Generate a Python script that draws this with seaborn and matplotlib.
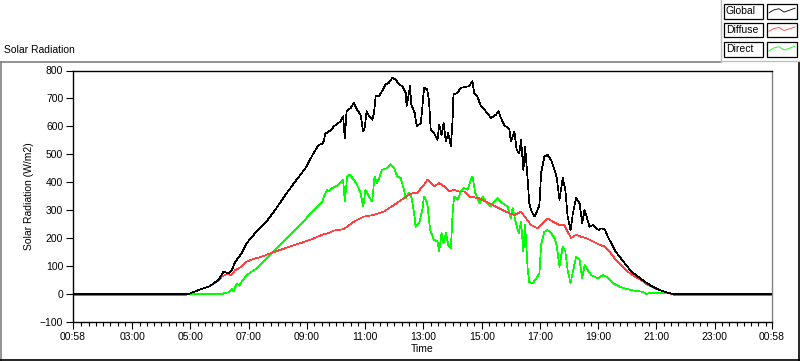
import matplotlib
matplotlib.use("Agg")
import matplotlib.pyplot as plt
from matplotlib.patches import Rectangle
from matplotlib.lines import Line2D
import seaborn as sns
import pandas as pd
import numpy as np

# ---------------- data (decimal hours, W/m2) ----------------
global_t = [0.967, 4.93, 5.00, 5.27, 5.62, 5.96, 6.13, 6.30, 6.42, 6.54, 6.76, 6.93, 7.22, 7.57, 7.91,
            8.26, 8.60, 8.95, 9.23, 9.40, 9.52, 9.575, 9.63, 9.69, 9.75, 9.86, 9.92, 10.15, 10.24, 10.30,
            10.36, 10.50, 10.61, 10.72, 10.84, 10.93, 10.98, 11.05, 11.13, 11.24, 11.30, 11.36, 11.47,
            11.58, 11.70, 11.81, 11.93, 12.04, 12.16, 12.27, 12.39, 12.42, 12.54, 12.58, 12.70, 12.77,
            12.91, 12.96, 13.02, 13.13, 13.19, 13.25, 13.36, 13.48, 13.54, 13.62, 13.69, 13.77, 13.85,
            13.94, 14.00, 14.03, 14.17, 14.28, 14.40, 14.57, 14.68, 14.74, 14.85, 14.97, 15.14, 15.32,
            15.49, 15.58, 15.66, 15.77, 15.95, 16.00, 16.12, 16.20, 16.29, 16.35, 16.43, 16.49, 16.58,
            16.63, 16.69, 16.81, 16.92, 16.98, 17.04, 17.15, 17.26, 17.38, 17.50, 17.57, 17.67, 17.78,
            17.87, 17.95, 18.05, 18.13, 18.24, 18.36, 18.45, 18.53, 18.62, 18.70, 18.82, 18.93, 19.02,
            19.10, 19.22, 19.33, 19.45, 19.56, 19.73, 19.91, 20.14, 20.37, 20.60, 20.83, 21.05, 21.28,
            21.46, 21.60, 24.967]
global_v = [0, 0, 3, 14, 26, 50, 80, 74, 86, 116, 146, 182, 218, 254, 301,
            355, 403, 451, 505, 534, 538, 546, 576, 576, 582, 590, 600, 618, 636, 558,
            654, 666, 684, 660, 642, 582, 594, 654, 636, 624, 648, 708, 708,
            726, 750, 756, 774, 768, 750, 744, 720, 672, 744, 678, 648, 600,
            612, 666, 738, 732, 690, 588, 576, 552, 606, 570, 612, 546, 576,
            528, 624, 714, 720, 738, 740, 744, 762, 720, 708, 672, 654, 630,
            642, 654, 630, 606, 588, 546, 582, 516, 504, 552, 444, 528, 408,
            325, 301, 277, 301, 319, 433, 492, 498, 480, 444, 420, 337, 415,
            373, 277, 229, 289, 343, 325, 253, 301, 271, 241, 247, 235, 229,
            235, 232, 205, 182, 158, 134, 110, 80, 62, 44, 29, 17, 8,
            3, 0, 0]

diffuse_t = [0.967, 4.75, 4.93, 5.00, 5.27, 5.62, 5.96, 6.07, 6.25, 6.40, 6.54, 6.76, 6.93, 7.11, 7.45,
             7.80, 8.14, 8.48, 8.83, 9.17, 9.52, 9.75, 9.92, 10.26, 10.61, 10.95, 11.30, 11.64, 11.99,
             12.33, 12.56, 12.79, 13.02, 13.13, 13.25, 13.36, 13.54, 13.71, 13.88, 14.05, 14.22, 14.40,
             14.57, 14.91, 15.26, 15.60, 15.95, 16.12, 16.35, 16.52, 16.69, 16.92, 17.09, 17.26, 17.44,
             17.67, 17.84, 17.95, 18.07, 18.24, 18.42, 18.59, 18.82, 19.05, 19.22, 19.39, 19.56, 19.79,
             20.02, 20.25, 20.48, 20.71, 20.94, 21.17, 21.46, 21.65, 24.967]
diffuse_v = [-5, -5, 0, 3, 14, 26, 48, 62, 72, 68, 86, 98, 116, 124, 134,
             148, 160, 172, 184, 196, 212, 218, 227, 232, 259, 277, 283, 295, 319,
             343, 359, 363, 391, 409, 397, 385, 397, 385, 367, 373, 367, 367,
             349, 343, 325, 307, 289, 283, 295, 271, 247, 235, 253, 271, 259,
             247, 247, 223, 200, 212, 205, 200, 188, 176, 170, 152, 128, 104,
             80, 62, 50, 32, 20, 12, 3, -5, -5]

direct_t = [0.967, 6.07, 6.20, 6.30, 6.42, 6.48, 6.59, 6.68, 6.76, 6.93, 7.22, 7.57, 7.85, 8.14, 8.48,
            8.83, 9.17, 9.52, 9.63, 9.69, 9.75, 9.86, 10.09, 10.24, 10.30, 10.38, 10.47, 10.61, 10.72,
            10.84, 10.93, 11.01, 11.13, 11.24, 11.32, 11.41, 11.58, 11.76, 11.87, 11.99, 12.10, 12.22,
            12.33, 12.39, 12.50, 12.58, 12.68, 12.73, 12.85, 12.96, 13.02, 13.13, 13.23, 13.36, 13.48,
            13.54, 13.62, 13.69, 13.77, 13.85, 13.94, 14.00, 14.05, 14.17, 14.28, 14.40, 14.51, 14.63,
            14.68, 14.78, 14.85, 14.94, 15.03, 15.14, 15.32, 15.43, 15.54, 15.72, 15.89, 16.00, 16.06,
            16.18, 16.27, 16.35, 16.43, 16.49, 16.58, 16.63, 16.75, 16.87, 16.98, 17.04, 17.15, 17.26,
            17.38, 17.50, 17.57, 17.67, 17.78, 17.87, 17.95, 18.05, 18.13, 18.24, 18.36, 18.45, 18.53,
            18.64, 18.76, 18.87, 18.99, 19.16, 19.28, 19.39, 19.56, 19.79, 20.02, 20.25, 20.54, 20.65,
            20.83, 21.17, 21.46, 21.60, 24.967]
direct_v = [0, 0, 4, 6, 18, 10, 38, 30, 44, 68, 88, 122, 152, 182, 218,
            253, 295, 330, 361, 373, 367, 379, 391, 409, 331, 421, 427, 409, 391,
            361, 313, 373, 349, 331, 421, 397, 445, 451, 465, 451, 421, 415,
            373, 343, 361, 349, 289, 241, 253, 301, 349, 325, 229, 194, 188,
            152, 218, 182, 218, 176, 164, 289, 349, 337, 367, 379, 373, 409,
            421, 361, 343, 325, 349, 331, 313, 331, 343, 325, 313, 271, 307,
            253, 218, 259, 152, 247, 86, 44, 38, 56, 74, 176, 223, 229,
            218, 200, 176, 98, 170, 152, 86, 38, 80, 134, 122, 56, 104,
            86, 68, 62, 56, 68, 62, 50, 36, 24, 17, 12, 8, 0,
            5, 5, 2, 0, 0]

series_names = ["Global", "Diffuse", "Direct"]
series_colors = ["#000000", "#FF4040", "#00FF00"]
x_ticks = [0.9667, 3, 5, 7, 9, 11, 13, 15, 17, 19, 21, 23, 24.9667]
x_tick_labels = ["00:58", "03:00", "05:00", "07:00", "09:00", "11:00", "13:00",
                 "15:00", "17:00", "19:00", "21:00", "23:00", "00:58"]
y_ticks = [-100, 0, 100, 200, 300, 400, 500, 600, 700, 800]

df = pd.concat([
    pd.DataFrame({"t": global_t, "v": global_v, "series": "Global"}),
    pd.DataFrame({"t": diffuse_t, "v": diffuse_v, "series": "Diffuse"}),
    pd.DataFrame({"t": direct_t, "v": direct_v, "series": "Direct"}),
], ignore_index=True)

# ---------------- figure ----------------
W, H = 800, 361
plt.rcParams["font.family"] = ["Liberation Sans", "DejaVu Sans"]
fig = plt.figure(figsize=(W / 100, H / 100), dpi=100)
fig.patch.set_facecolor("white")

def fx(x):
    return x / W

def fy(y):
    return 1 - y / H

L, R, T, B = 73, 772, 70.5, 322
ax = fig.add_axes([fx(L), fy(B), fx(R) - fx(L), fy(T) - fy(B)])

palette = dict(zip(series_names, series_colors))
sns.lineplot(data=df, x="t", y="v", hue="series", hue_order=["Direct", "Diffuse", "Global"],
             palette=palette, estimator=None, sort=False, legend=False, ax=ax,
             linewidth=0.5, antialiased=False)

ax.set_xlim(x_ticks[0], x_ticks[-1])
ax.set_ylim(-100, 800)
ax.set_xticks(x_ticks)
ax.set_xticklabels(x_tick_labels)
minor = [h / 4 for h in range(5, 100) if (h / 4) not in x_ticks]
ax.set_xticks(minor, minor=True)
ax.set_yticks(y_ticks)
ax.tick_params(axis="both", which="major", direction="out", length=5, width=0.8,
               labelsize=7.5, pad=2, color="black")
ax.tick_params(axis="x", which="minor", direction="out", length=3, width=0.8, color="black")
ax.set_xlabel("Time", fontsize=7.5, labelpad=2)
ax.set_ylabel("Solar Radiation (W/m2)", fontsize=7.5, labelpad=4)

for s in ["top", "left", "bottom"]:
    ax.spines[s].set_color("black")
    ax.spines[s].set_linewidth(1.0)
ax.spines["right"].set_color("#808080")
ax.spines["right"].set_linewidth(1.0)

# title
fig.text(fx(4), fy(50), "Solar Radiation", fontsize=7.5, ha="left", va="center")

# panel frame
fig.add_artist(Line2D([fx(0), fx(721)], [fy(61.5), fy(61.5)], color="#808080", lw=1.2))
fig.add_artist(Line2D([fx(0.6), fx(0.6)], [fy(61.5), fy(361)], color="#808080", lw=1.2))
fig.add_artist(Line2D([fx(799.3), fx(799.3)], [fy(61.5), fy(361)], color="black", lw=1.2))
fig.add_artist(Line2D([fx(0), fx(800)], [fy(359.5), fy(359.5)], color="black", lw=1.2))
# legend frame
fig.add_artist(Line2D([fx(721), fx(721)], [fy(0), fy(61.5)], color="#C0C0C0", lw=1.0))
fig.add_artist(Line2D([fx(721), fx(800)], [fy(60.5), fy(60.5)], color="#C0C0C0", lw=1.0))

rows = [(4, 19), (23, 37), (42, 57)]
zig_x = [769, 774, 779, 784, 789, 795]
zig_y = [0.62, 0.35, 0.25, 0.55, 0.4, 0.2]
for (y0, y1), name, col in zip(rows, series_names, series_colors):
    fig.add_artist(Rectangle((fx(724), fy(y1)), fx(763) - fx(724), fy(y0) - fy(y1),
                             transform=fig.transFigure, facecolor="white", edgecolor="black", lw=0.9))
    fig.add_artist(Rectangle((fx(767), fy(y1)), fx(797) - fx(767), fy(y0) - fy(y1),
                             transform=fig.transFigure, facecolor="white", edgecolor="black", lw=0.9))
    fig.text(fx(726), fy((y0 + y1) / 2), name, fontsize=7.5, ha="left", va="center")
    fig.add_artist(Line2D([fx(x) for x in zig_x],
                          [fy(y0 + 2 + f * (y1 - y0 - 4)) for f in zig_y],
                          color=col, lw=0.6))

fig.savefig("out.png", dpi=100)
